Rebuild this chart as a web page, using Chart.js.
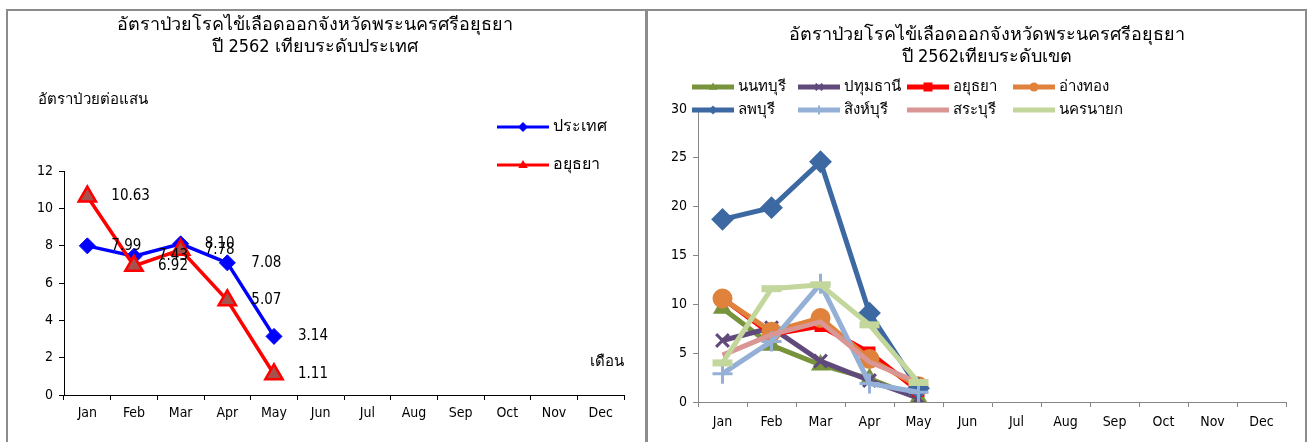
<!DOCTYPE html>
<html>
<head>
<meta charset="utf-8">
<script src="https://cdn.jsdelivr.net/npm/chart.js@4.4.1/dist/chart.umd.min.js"></script>
<style>
  body { margin: 0; background: #fff; width: 1312px; height: 442px; overflow: hidden; position: relative; }
  .panel { position: absolute; border: 2px solid #8c8c8c; box-sizing: border-box; }
  canvas { position: absolute; }
</style>
</head>
<body>
<div class="panel" style="left:6px;top:9px;width:641px;height:450px;"></div>
<div class="panel" style="left:646px;top:9px;width:661px;height:450px;"></div>
<canvas id="countryChart" width="640" height="433" style="left:6px;top:9px;"></canvas>
<canvas id="zoneChart" width="660" height="433" style="left:647px;top:9px;"></canvas>
<script>
const months = ['Jan', 'Feb', 'Mar', 'Apr', 'May', 'Jun', 'Jul', 'Aug', 'Sep', 'Oct', 'Nov', 'Dec'];

// left chart: country vs Ayutthaya
const thailand = [7.99, 7.43, 8.10, 7.08, 3.14];
const ayutthaya = [10.63, 6.92, 7.78, 5.07, 1.11];

// right chart: provinces of the health zone
const nonthaburi = [9.6, 5.8, 3.8, 2.4, 0.4];
const pathumthani = [6.3, 7.6, 4.2, 2.2, 0.4];
const ayutthayaZone = [10.63, 6.92, 7.78, 5.07, 1.11];
const angthong = [10.6, 7.2, 8.6, 4.4, 1.6];
const lopburi = [18.7, 19.9, 24.6, 9.1, 1.4];
const singburi = [2.9, 6.2, 12.1, 1.9, 1.0];
const saraburi = [4.8, 6.9, 8.2, 4.1, 2.0];
const nakhonnayok = [4.0, 11.6, 12.0, 7.9, 2.0];

const FONT = 'Tahoma, "DejaVu Sans Condensed", "DejaVu Sans", sans-serif';
Chart.defaults.font.family = FONT;
Chart.defaults.color = '#000';

// small legend marker, drawn by hand so the colour is certain
function marker(ctx, style, cx, cy, r, color) {
  ctx.fillStyle = color;
  ctx.strokeStyle = color;
  ctx.lineWidth = 2;
  ctx.beginPath();
  if (style === 'circle') {
    ctx.arc(cx, cy, r, 0, Math.PI * 2);
    ctx.fill();
  } else if (style === 'rect') {
    ctx.fillRect(cx - r, cy - r, 2 * r, 2 * r);
  } else if (style === 'rectRot') {
    ctx.moveTo(cx, cy - r); ctx.lineTo(cx + r, cy); ctx.lineTo(cx, cy + r); ctx.lineTo(cx - r, cy);
    ctx.closePath(); ctx.fill();
  } else if (style === 'triangle') {
    ctx.moveTo(cx, cy - r); ctx.lineTo(cx + r * 0.95, cy + r * 0.6); ctx.lineTo(cx - r * 0.95, cy + r * 0.6);
    ctx.closePath(); ctx.fill();
  } else if (style === 'cross') {
    ctx.moveTo(cx, cy - r); ctx.lineTo(cx, cy + r); ctx.moveTo(cx - r, cy); ctx.lineTo(cx + r, cy);
    ctx.stroke();
  } else if (style === 'crossRot') {
    const d = r * 0.75;
    ctx.moveTo(cx - d, cy - d); ctx.lineTo(cx + d, cy + d); ctx.moveTo(cx + d, cy - d); ctx.lineTo(cx - d, cy + d);
    ctx.stroke();
  }
}

const decor = {
  id: 'decor',
  afterDatasetsDraw(chart, args, opts) {
    const ctx = chart.ctx;
    ctx.save();
    ctx.fillStyle = '#000';
    ctx.textBaseline = 'middle';
    (opts.texts || []).forEach(t => {
      ctx.font = t.size + 'px ' + FONT;
      ctx.textAlign = t.align || 'left';
      ctx.fillText(t.text, t.x, t.y);
    });
    (opts.legend || []).forEach(l => {
      ctx.strokeStyle = l.color;
      ctx.lineWidth = l.width;
      ctx.beginPath();
      ctx.moveTo(l.x, l.y);
      ctx.lineTo(l.x + l.len, l.y);
      ctx.stroke();
      if (l.style) marker(ctx, l.style, l.x + l.len / 2, l.y, l.radius, l.color);
      ctx.fillStyle = '#000';
      ctx.font = l.size + 'px ' + FONT;
      ctx.textAlign = 'left';
      ctx.fillText(l.label, l.x + l.len + 4, l.y);
    });
    if (opts.valueLabels) {
      ctx.font = '15px ' + FONT;
      ctx.textAlign = 'left';
      ctx.fillStyle = '#000';
      chart.data.datasets.forEach((ds, i) => {
        chart.getDatasetMeta(i).data.forEach((pt, j) => {
          ctx.fillText(ds.data[j].toFixed(2), pt.x + 24, pt.y);
        });
      });
    }
    ctx.restore();
  }
};

function axes(max, step, yWidth, color, labelPad) {
  return {
    x: {
      offset: true,
      grid: { offset: true, drawOnChartArea: false, drawTicks: true, tickLength: 5, tickColor: color },
      border: { color: color, width: 1 },
      ticks: { font: { size: 14 }, padding: labelPad, maxRotation: 0, autoSkip: false },
      afterFit(s) { s.height = 30; }
    },
    y: {
      min: 0, max: max,
      grid: { drawOnChartArea: false, drawTicks: true, tickLength: 5, tickColor: color },
      border: { color: color, width: 1 },
      ticks: { stepSize: step, font: { size: 14 }, padding: 6 },
      afterFit(s) { s.width = yWidth; }
    }
  };
}

new Chart(document.getElementById('countryChart'), {
  type: 'line',
  data: {
    labels: months,
    datasets: [
      { label: 'ประเทศ', data: thailand, borderColor: '#0000ff', backgroundColor: '#0000ff',
        borderWidth: 3.5, pointStyle: 'rectRot', pointRadius: 8, pointBorderWidth: 1, tension: 0, order: 1 },
      { label: 'อยุธยา', data: ayutthaya, borderColor: '#ff0000', backgroundColor: '#a8504c',
        borderWidth: 3.5, pointStyle: 'triangle', pointRadius: 10, pointBorderWidth: 2.5, tension: 0, order: 0 }
    ]
  },
  options: {
    responsive: false,
    animation: false,
    layout: { padding: { left: 18, right: 22, top: 162, bottom: 17 } },
    scales: axes(12, 2, 40, '#000', 5),
    plugins: {
      legend: { display: false },
      tooltip: { enabled: false },
      decor: {
        valueLabels: true,
        texts: [
          { text: 'อัตราป่วยโรคไข้เลือดออกจังหวัดพระนครศรีอยุธยา', x: 309, y: 16, size: 18, align: 'center' },
          { text: 'ปี 2562 เทียบระดับประเทศ', x: 309, y: 38, size: 18, align: 'center' },
          { text: 'อัตราป่วยต่อแสน', x: 32, y: 91, size: 15 },
          { text: 'เดือน', x: 584, y: 353, size: 15 }
        ],
        legend: [
          { label: 'ประเทศ', color: '#0000ff', style: 'rectRot', radius: 5, x: 491, y: 118, len: 52, width: 3, size: 16 },
          { label: 'อยุธยา', color: '#ff0000', style: 'triangle', radius: 5, x: 491, y: 156, len: 52, width: 3, size: 16 }
        ]
      }
    }
  },
  plugins: [decor]
});

const zoneSeries = [
  { label: 'นนทบุรี', data: nonthaburi, color: '#77933c', style: 'triangle', radius: 9, bw: 2 },
  { label: 'ปทุมธานี', data: pathumthani, color: '#604a7b', style: 'crossRot', radius: 9, bw: 3 },
  { label: 'อยุธยา', data: ayutthayaZone, color: '#ff0000', style: 'rect', radius: 7, bw: 2 },
  { label: 'อ่างทอง', data: angthong, color: '#e0823c', style: 'circle', radius: 9, bw: 2 },
  { label: 'ลพบุรี', data: lopburi, color: '#3d69a3', style: 'rectRot', radius: 10, bw: 2 },
  { label: 'สิงห์บุรี', data: singburi, color: '#94b0d6', style: 'cross', radius: 10, bw: 3 },
  { label: 'สระบุรี', data: saraburi, color: '#d99694', style: false, radius: 0, bw: 0 },
  { label: 'นครนายก', data: nakhonnayok, color: '#c3d69b', style: 'line', radius: 10, bw: 7 }
];

const legendCols = [45, 151, 260, 366];
const legendRows = [78, 101];

new Chart(document.getElementById('zoneChart'), {
  type: 'line',
  data: {
    labels: months,
    datasets: zoneSeries.map((s, i) => ({
      label: s.label, data: s.data, borderColor: s.color, backgroundColor: s.color,
      borderWidth: 5, pointStyle: s.style || 'circle', pointRadius: s.radius,
      pointBorderWidth: s.bw, tension: 0, order: -i
    }))
  },
  options: {
    responsive: false,
    animation: false,
    layout: { padding: { left: 11, right: 21, top: 100, bottom: 10 } },
    scales: axes(30, 5, 40, '#868686', 7),
    plugins: {
      legend: { display: false },
      tooltip: { enabled: false },
      decor: {
        texts: [
          { text: 'อัตราป่วยโรคไข้เลือดออกจังหวัดพระนครศรีอยุธยา', x: 340, y: 26, size: 18, align: 'center' },
          { text: 'ปี 2562เทียบระดับเขต', x: 340, y: 48, size: 18, align: 'center' }
        ],
        legend: zoneSeries.map((s, i) => ({
          label: s.label, color: s.color,
          style: s.style === 'line' ? false : s.style, radius: 4.5,
          x: legendCols[i % 4], y: legendRows[Math.floor(i / 4)], len: 42, width: 5, size: 15
        }))
      }
    }
  },
  plugins: [decor]
});
</script>
</body>
</html>
